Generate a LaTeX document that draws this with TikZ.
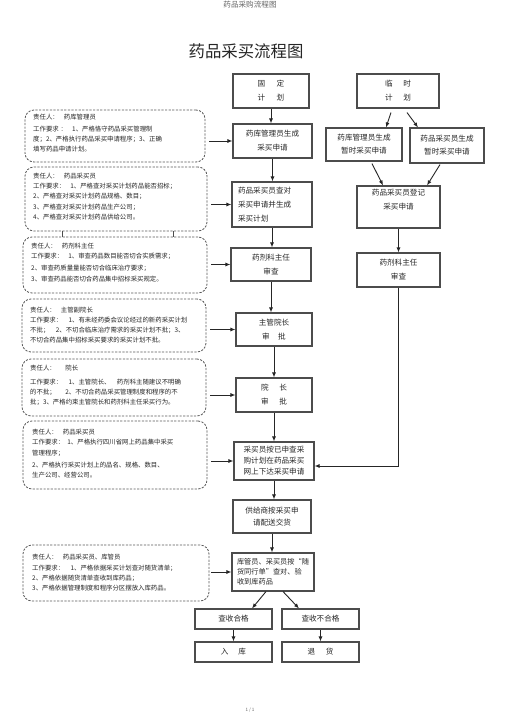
\documentclass[tikz,border=0pt]{standalone}
\usepackage{fontspec}
\setmainfont{Noto Sans CJK SC}
\usetikzlibrary{arrows.meta,calc}
\newcommand\myboxfont{\fontsize{7.6pt}{14pt}\selectfont}
\newcommand\mydfont{\fontsize{6.4pt}{10pt}\selectfont}
\tikzset{
  box/.style={draw=black!70, line width=1.1pt, inner sep=0pt, font=\myboxfont, align=center, text=black!85},
  dbox/.style={draw=black!65, line width=0.8pt, dash pattern=on 2.2pt off 1.4pt, rounded corners=9pt, inner sep=0pt},
  dtxt/.style={anchor=north west, inner sep=0pt, align=left, font=\mydfont, text=black!85},
  arr/.style={-{Latex[length=5pt,width=4pt]}, line width=0.9pt, black!85},
  tick/.style={line width=0.8pt, black!70},
}
\begin{document}
\begin{tikzpicture}[x=1pt,y=-1pt]
\fill[white] (0,0) rectangle (505,714);
\useasboundingbox (0,0) rectangle (505,714);

% header, title, footer
\node[inner sep=0pt, font=\fontsize{7.6pt}{9pt}\selectfont, text=black!60] (hd) at (250,5) {药品采购流程图};
\node[inner sep=0pt, font=\fontsize{16.4pt}{18pt}\selectfont, text=black!85] (ti) at (246,51) {药品采买流程图};
\node[inner sep=0pt, font=\fontsize{4.5pt}{5pt}\selectfont, text=black!60] (ft) at (250,710) {1 / 1};

% main column
\node[box, minimum width=76pt, minimum height=34pt] (gd) at (271,91) {固\hspace{1.5em}定\\计\hspace{1.5em}划};
\node[box, minimum width=79pt, minimum height=34pt] (sq) at (272.5,141) {药库管理员生成\\采买申请};
\node[box, minimum width=80pt, minimum height=45pt, text width=68pt, align=left] (cd) at (272,204.5) {药品采买员查对\\采买申请并生成\\采买计划};
\node[box, minimum width=80pt, minimum height=33pt] (sc) at (271,264.5) {药剂科主任\\审查};
\node[box, minimum width=76pt, minimum height=33pt] (zy) at (274,329.5) {主管院长\\审\hspace{1.1em}批};
\node[box, minimum width=76pt, minimum height=34pt] (yz) at (274,395) {院\hspace{1.4em}长\\审\hspace{1.4em}批};
\node[box, minimum width=80pt, minimum height=38pt, font=\fontsize{7.6pt}{11pt}\selectfont] (wx) at (274,461) {采买员按已申查采\\购计划在药品采买\\网上下达采买申请};
\node[box, minimum width=78pt, minimum height=33pt, font=\fontsize{7.6pt}{12.5pt}\selectfont] (gs) at (272,516.5) {供给商按采买申\\请配送交货};
\node[box, minimum width=82pt, minimum height=38pt, text width=72pt, align=left, font=\fontsize{7.2pt}{10pt}\selectfont] (kg) at (273,572) {库管员、采买员按“随\\货同行单”查对、验\\收到库药品};
\node[box, minimum width=77pt, minimum height=20pt] (hg) at (233.5,619) {查收合格};
\node[box, minimum width=77pt, minimum height=20pt] (bh) at (320.5,619) {查收不合格};
\node[box, minimum width=77pt, minimum height=20pt] (rk) at (233.5,652) {入\hspace{1.3em}库};
\node[box, minimum width=77pt, minimum height=20pt] (th) at (320.5,652) {退\hspace{1.4em}货};

% temporary column
\node[box, minimum width=82pt, minimum height=34pt] (ls) at (398,91) {临\hspace{1.4em}时\\计\hspace{1.4em}划};
\node[box, minimum width=76pt, minimum height=33pt, font=\fontsize{7.6pt}{13pt}\selectfont] (z1) at (364,144.5) {药库管理员生成\\暂时采买申请};
\node[box, minimum width=74pt, minimum height=35pt, font=\fontsize{7.6pt}{13pt}\selectfont] (z2) at (447,145.5) {药品采买员生成\\暂时采买申请};
\node[box, minimum width=83pt, minimum height=42pt] (dj) at (398.5,207) {药品采买员登记\\采买申请\\\phantom{采}};
\node[box, minimum width=83pt, minimum height=34pt] (rs) at (398.5,270) {药剂科主任\\审查};

% dashed responsibility boxes
\node[dbox, minimum width=180pt, minimum height=52pt] (d1) at (115,136) {};
\node[dbox, minimum width=182pt, minimum height=64pt] (d2) at (116,199) {};
\node[dbox, minimum width=184pt, minimum height=56pt] (d3) at (115,265) {};
\node[dbox, minimum width=184pt, minimum height=53pt] (d4) at (114,325.5) {};
\node[dbox, minimum width=184pt, minimum height=57pt] (d5) at (114,387.5) {};
\node[dbox, minimum width=184pt, minimum height=68pt] (d6) at (115,455) {};
\node[dbox, minimum width=186pt, minimum height=56pt] (d7) at (116,573) {};

\node[dtxt] (t1) at (33,114) {责任人：\hspace{0.8em}药库管理员\\[2pt]
工作要求\hspace{0.3em}：\hspace{0.8em}1、严格恪守药品采买管理制\\
度；2、严格执行药品采买申请程序；3、正确\\
填写药品申请计划。};
\node[dtxt] (t2) at (33,173) {责任人：\hspace{0.8em}药品采买员\\
工作要求：\hspace{0.8em}1、严格查对采买计划药品能否招标；\\
2、严格查对采买计划药品规格、数目；\\[1pt]
3、严格查对采买计划药品生产公司；\\
4、严格查对采买计划药品供给公司。};
\node[dtxt] (t3) at (31,243) {责任人：\hspace{0.8em}药剂科主任\\
工作要求：\hspace{0.8em}1、审查药品数目能否切合实质需求；\\[2pt]
2、审查药质量量能否切合临床治疗要求；\\[1pt]
3、审查药品能否切合药品集中招标采买规定。};
\node[dtxt] (t4) at (30,307) {责任人：\hspace{0.8em}主管副院长\\
工作要求：\hspace{1em}1、有未经药委会议论经过的新药采买计划\\
不批；\hspace{1em}2、不切合临床治疗需求的采买计划不批；3、\\
不切合药品集中招标采买要求的采买计划不批。};
\node[dtxt] (t5) at (30,365) {责任人：\hspace{1.5em}院长\\[4pt]
工作要求：\hspace{1em}1、主管院长、\hspace{1em}药剂科主随建议不明确\\
的不批；\hspace{1.5em}2、不切合药品采买管理制度和程序的不\\
批；3、严格约束主管院长和药剂科主任采买行为。};
\node[dtxt] (t6) at (32,429) {责任人：\hspace{0.8em}药品采买员\\
工作要求：\hspace{0.5em}1、严格执行四川省网上药品集中采买\\[1pt]
管理程序；\\[2pt]
2、严格执行采买计划上的品名、规格、数目、\\
生产公司、经营公司。};
\node[dtxt] (t7) at (32,554) {责任人：\hspace{0.8em}药品采买员、库管员\\[1pt]
工作要求：\hspace{1em}1、严格依据采买计划查对随货清单；\\
2、严格依据随货清单查收到库药品；\\
3、严格依据管理制度和程序分区摆放入库药品。};

% small ticks between d2 and d3
\draw[tick] ($(d2.south west)+(38,0)$) -- ($(d3.north west)+(40,0)$);
\draw[tick] ($(d2.south west)+(149,0)$) -- ($(d3.north west)+(151,0)$);

% arrows from dashed boxes
\draw[arr] ([xshift=4pt]d1.east |- sq.west) -- (sq.west);
\draw[arr] ([xshift=4pt]d2.east |- cd.west) -- (cd.west);
\draw[arr] ([xshift=4pt]d3.east |- sc.west) -- (sc.west);
\draw[arr] ([xshift=4pt]d4.east |- zy.west) -- (zy.west);
\draw[arr] ([xshift=4pt]d5.east |- yz.west) -- (yz.west);
\draw[arr] ([xshift=4pt]d6.east |- wx.west) -- (wx.west);
\draw[arr] ([xshift=2pt]d7.east |- kg.west) -- (kg.west);

% main column arrows
\draw[arr] (gd.south) -- (gd.south |- sq.north);
\draw[arr] (sq.south) -- (sq.south |- cd.north);
\draw[arr] (cd.south) -- (cd.south |- sc.north);
\draw[arr] (sc.south) -- (sc.south |- zy.north);
\draw[arr] (zy.south) -- (zy.south |- yz.north);
\draw[arr] (yz.south) -- (yz.south |- wx.north);
\draw[arr] (wx.south) -- (wx.south |- gs.north);
\draw[arr] (gs.south) -- (gs.south |- kg.north);
\draw[arr] ($(kg.south)+(-7,0)$) -- ($(hg.north)+(18.5,0)$);
\draw[arr] ($(kg.south)+(10,0)$) -- ($(bh.north)+(-21.5,0)$);
\draw[arr] (hg.south) -- (hg.south |- rk.north);
\draw[arr] (bh.south) -- (bh.south |- th.north);

% temporary column arrows
\draw[arr] ($(ls.south)+(-7,4)$) -- ($(z1.north)+(22,0)$);
\draw[arr] ($(ls.south)+(9,4)$) -- ($(z2.north)+(-29,0)$);
\draw[arr] ($(z1.south)+(8,2)$) -- ($(dj.north)+(-15.5,0)$);
\draw[arr] ($(z2.south)+(-7,1)$) -- ($(dj.north)+(28.5,0)$);
\draw[arr] (dj.south) -- (dj.south |- rs.north);
\draw[arr] (rs.south) |- ($(wx.east)+(0,5)$);
\end{tikzpicture}
\end{document}
